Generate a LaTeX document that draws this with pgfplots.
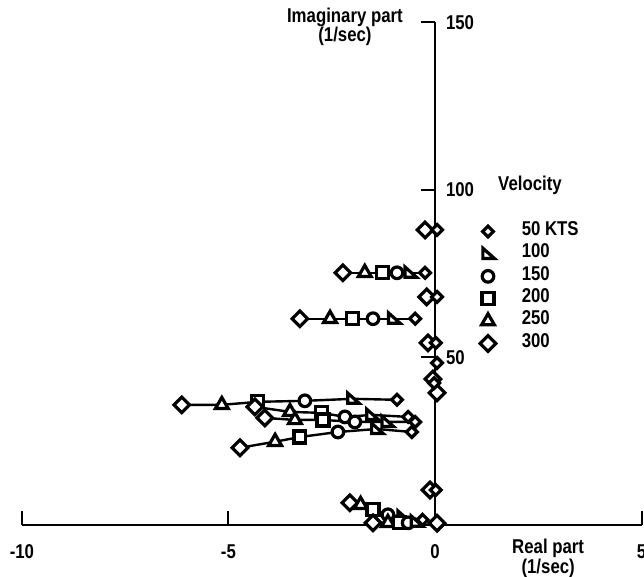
\documentclass[border=0pt]{standalone}
\usepackage{pgfplots}
\pgfplotsset{compat=1.18}
\usepackage{pgfplotstable}
\usepackage{fontspec}
\setmainfont{Liberation Sans}[FakeStretch=0.84]

\pgfdeclareplotmark{ediamond}{%
  \pgfpathmoveto{\pgfqpoint{0pt}{\pgfplotmarksize}}%
  \pgfpathlineto{\pgfqpoint{\pgfplotmarksize}{0pt}}%
  \pgfpathlineto{\pgfqpoint{0pt}{-\pgfplotmarksize}}%
  \pgfpathlineto{\pgfqpoint{-\pgfplotmarksize}{0pt}}%
  \pgfpathclose
  \pgfusepathqfillstroke}
\pgfdeclareplotmark{halftri}{%
  \pgfpathmoveto{\pgfqpoint{-0.8\pgfplotmarksize}{0.9\pgfplotmarksize}}%
  \pgfpathlineto{\pgfqpoint{-0.8\pgfplotmarksize}{-0.7\pgfplotmarksize}}%
  \pgfpathlineto{\pgfqpoint{\pgfplotmarksize}{-0.7\pgfplotmarksize}}%
  \pgfpathclose
  \pgfusepathqfillstroke}

\tikzset{
  mA/.style={mark=ediamond, mark size=2.7pt, draw=black, fill=white, line width=1.6pt, rounded corners=0.9pt, mark options={line width=1.6pt, draw=black, fill=white}},
  mB/.style={mark=halftri, mark size=3.2pt, draw=black, fill=white, line width=1.6pt, mark options={line width=1.6pt, draw=black, fill=white}},
  mC/.style={mark=*, mark size=2.9pt, draw=black, fill=white, line width=1.6pt, mark options={line width=1.6pt, draw=black, fill=white}},
  mD/.style={mark=square*, mark size=3.0pt, draw=black, fill=white, line width=1.6pt, rounded corners=0.7pt, mark options={line width=1.6pt, draw=black, fill=white}},
  mE/.style={mark=triangle*, mark size=3.7pt, draw=black, fill=white, line width=1.6pt, mark options={line width=1.6pt, draw=black, fill=white}},
  mF/.style={mark=ediamond, mark size=3.9pt, draw=black, fill=white, line width=1.6pt, mark options={line width=1.6pt, draw=black, fill=white}},
}
\pgfplotsset{
  branch/.style={black, line width=1.2pt, forget plot, scatter, scatter src=explicit symbolic,
    mark options={line width=1.6pt, draw=black, fill=white},
    scatter/classes={
      a={mA}, b={mB}, c={mC}, d={mD}, e={mE}, f={mF}}},
}

% branches: x (1/sec), y (1/sec), velocity class (a=50, b=100, c=150, d=200, e=250, f=300 KTS)
\pgfplotstableread{
x y v
-0.24 88 f
0.05 88 a
}\brOne
\pgfplotstableread{
x y v
-2.23 75.2 f
-1.70 75.2 e
-1.28 75.2 d
-0.92 75.2 c
-0.60 75.2 b
-0.24 75.2 a
}\brTwo
\pgfplotstableread{
x y v
-3.27 61.5 f
-2.54 61.5 e
-2.00 61.5 d
-1.50 61.5 c
-1.00 61.5 b
-0.48 61.5 a
}\brThree
\pgfplotstableread{
x y v
-0.20 68 f
0.05 68 a
}\brFour
\pgfplotstableread{
x y v
-0.17 54.3 f
0.02 54.3 a
}\brFive
\pgfplotstableread{
x y v
-0.05 43.5 f
0.05 48.3 a
}\brSix
\pgfplotstableread{
x y v
0.05 39.4 f
-0.02 42.3 a
}\brSeven
\pgfplotstableread{
x y v
-6.13 35.8 f
-5.16 35.8 e
-4.29 36.7 d
-3.15 37.0 c
-1.99 37.6 b
-0.92 37.3 a
}\brEight
\pgfplotstableread{
x y v
-4.36 35.2 f
-3.51 33.7 e
-2.74 33.4 d
-2.18 32.2 c
-1.53 32.8 b
-0.65 32.2 a
}\brNine
\pgfplotstableread{
x y v
-4.12 31.9 f
-3.39 31.3 e
-2.71 31.3 d
-1.94 30.7 c
-1.16 30.7 b
-0.48 30.7 a
}\brTen
\pgfplotstableread{
x y v
-4.72 23.0 f
-3.87 24.8 e
-3.27 26.2 d
-2.35 27.7 c
-1.41 28.6 b
-0.56 27.7 a
}\brEleven
\pgfplotstableread{
x y v
-0.12 10.4 f
0.02 10.4 a
}\brTwelve
\pgfplotstableread{
x y v
-2.06 6.6 f
-1.80 6.0 e
-1.50 4.5 d
-1.14 3.0 c
-0.77 2.4 b
-0.30 1.5 a
}\brThirteen
\pgfplotstableread{
x y v
-1.50 0.6 f
-1.14 0.6 e
-0.85 0.6 d
-0.65 0.6 c
-0.45 0.9 b
}\brFourteen
\pgfplotstableread{
x y v
0.05 0.5 f
}\brFifteen

\begin{document}
\begin{tikzpicture}
\begin{axis}[
  scale only axis, width=310pt, height=251.5pt,
  xmin=-10, xmax=5, ymin=0, ymax=150,
  axis x line=middle, axis y line=middle,
  axis line style={-, line width=1pt, black},
  hide obscured x ticks=false, hide obscured y ticks=false,
  xtick={-10,-5,0,5}, xticklabels={-10,-5,0,5},
  ytick={50,100,150}, yticklabels={50,100,150},
  xtick align=inside, ytick align=outside,
  major tick length=7pt,
  tick style={line width=1pt, black},
  xticklabel style={anchor=north, yshift=-6.5pt},
  yticklabel style={anchor=west, xshift=9pt},
  font=\fontsize{10}{11}\selectfont\bfseries,
  clip=false,
  legend style={draw=none, fill=none, inner sep=0pt, row sep=0pt, column sep=13pt,
    at={(axis description cs:0.739,0.472)}, anchor=west,
    nodes={inner sep=0pt, text height=7.5pt, text depth=3.7pt, font=\fontsize{10}{11}\selectfont\bfseries}},
  legend cell align=left,
  legend entries={50 KTS,100,150,200,250,300},
]
\addlegendimage{only marks, mA}
\addlegendimage{only marks, mB}
\addlegendimage{only marks, mC}
\addlegendimage{only marks, mD}
\addlegendimage{only marks, mE}
\addlegendimage{only marks, mF}

\addplot[branch] table[meta=v] {\brOne};
\addplot[branch] table[meta=v] {\brTwo};
\addplot[branch] table[meta=v] {\brThree};
\addplot[branch] table[meta=v] {\brFour};
\addplot[branch] table[meta=v] {\brFive};
\addplot[branch] table[meta=v] {\brSix};
\addplot[branch] table[meta=v] {\brSeven};
\addplot[branch] table[meta=v] {\brEight};
\addplot[branch] table[meta=v] {\brNine};
\addplot[branch] table[meta=v] {\brTen};
\addplot[branch] table[meta=v] {\brEleven};
\addplot[branch] table[meta=v] {\brTwelve};
\addplot[branch] table[meta=v] {\brThirteen};
\addplot[branch] table[meta=v] {\brFourteen};
\addplot[branch] table[meta=v] {\brFifteen};

\node[anchor=west, font=\fontsize{10}{11}\selectfont\bfseries] at (axis cs:1.36,101.4) {Velocity};
\node[align=center, font=\fontsize{10}{9.5}\selectfont\bfseries] at (axis cs:-2.18,148.6) {Imaginary part\\(1/sec)};
\node[align=center, font=\fontsize{10}{9}\selectfont\bfseries] at (axis cs:2.74,-10.0) {Real part\\(1/sec)};
\coordinate (bbsw) at (axis cs:-10.53,-15.5);
\coordinate (bbne) at (axis cs:5.06,156.6);
\end{axis}
\pgfresetboundingbox
\useasboundingbox (bbsw) rectangle (bbne);
\end{tikzpicture}
\end{document}
